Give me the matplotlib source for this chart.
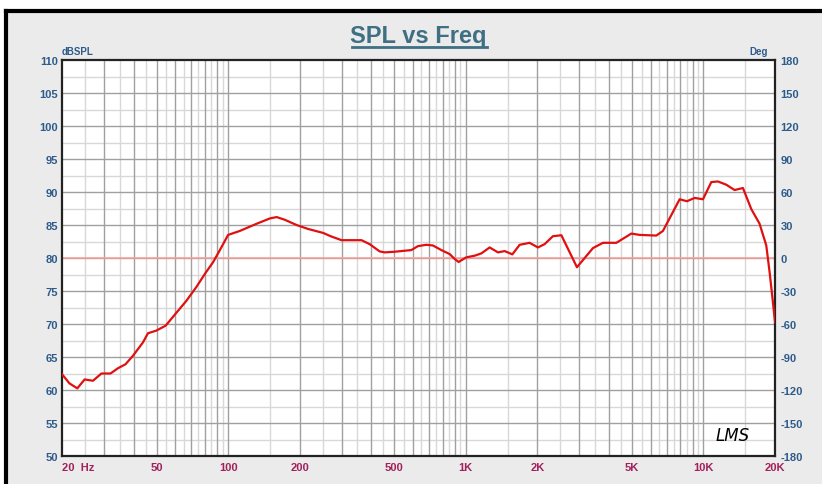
import numpy as np
import matplotlib
matplotlib.use("Agg")
import matplotlib.pyplot as plt
from matplotlib.patches import Rectangle
from matplotlib.lines import Line2D

# --- data ---
freq_hz = [20, 21.5, 23.2, 24.9, 27, 29.3, 32, 34.4, 37, 39.8, 43.8, 46, 49.9, 54.6,
           59.6, 66.7, 73.5, 80.2, 86.4, 92, 100, 112, 131, 150, 160, 173, 194, 217,
           251, 270, 300, 364, 394, 434, 456, 502, 590, 629, 682, 727, 789, 855, 898,
           933, 1005, 1090, 1163, 1260, 1366, 1457, 1570, 1685, 1856, 2012, 2146, 2326,
           2524, 2936, 3428, 3776, 4300, 4972, 5388, 6334, 6754, 7940, 8520, 9180, 9952,
           10790, 11500, 12480, 13520, 14660, 15900, 17220, 18380, 18990, 19600, 20000]
spl_db = [62.4, 61.0, 60.25, 61.6, 61.4, 62.5, 62.5, 63.3, 63.9, 65.2, 67.2, 68.6, 69.0, 69.75,
          71.4, 73.5, 75.6, 77.7, 79.35, 81.1, 83.5, 84.1, 85.15, 86.0, 86.2, 85.8, 85.0, 84.4,
          83.8, 83.3, 82.7, 82.7, 82.1, 81.0, 80.85, 80.95, 81.2, 81.8, 82.0, 81.9, 81.2, 80.6, 79.85,
          79.4, 80.1, 80.35, 80.7, 81.6, 80.85, 81.05, 80.55, 82.0, 82.3, 81.6, 82.1, 83.3,
          83.45, 78.6, 81.5, 82.3, 82.3, 83.7, 83.5, 83.4, 84.1, 88.9, 88.6, 89.1, 88.9,
          91.5, 91.6, 91.1, 90.3, 90.6, 87.4, 85.2, 81.9, 77.8, 73.3, 70.3]

x_ticks = [20, 50, 100, 200, 500, 1000, 2000, 5000, 10000, 20000]
x_labels = ["20  Hz", "50", "100", "200", "500", "1K", "2K", "5K", "10K", "20K"]
db_ticks = list(range(50, 111, 5))
deg_ticks = list(range(-180, 181, 30))

BLUE = "#2d5b8a"
MAROON = "#a3205c"
FONT = ["Liberation Sans Narrow", "Liberation Sans", "DejaVu Sans"]
plt.rcParams["font.family"] = FONT

fig = plt.figure(figsize=(8.22, 4.85), dpi=100)
fig.patch.set_facecolor("white")

# grey panel with black frame (top + left)
W, H = 822.0, 485.0
fig.add_artist(Rectangle((7 / W, 0), 1, 1 - 12 / H, transform=fig.transFigure,
                         facecolor="#ebebeb", edgecolor="none", zorder=0))
fig.add_artist(Line2D([6 / W, 1], [1 - 11.5 / H, 1 - 11.5 / H], transform=fig.transFigure,
                      color="black", lw=3))
fig.add_artist(Line2D([6 / W, 6 / W], [0, 1 - 11.5 / H], transform=fig.transFigure,
                      color="black", lw=3))

ax = fig.add_axes([62 / W, 1 - 457 / H, 713 / W, 396 / H])
ax.set_facecolor("white")
ax.set_xscale("log")
ax.set_xlim(20, 20000)
ax.set_ylim(50, 110)

# grid: dark lines at integer multiples, light ones at the half steps
for dec in [10, 100, 1000, 10000]:
    for m in range(1, 10):
        f = m * dec
        if 20 < f < 20000:
            ax.axvline(f, color="#a0a0a0", lw=1, zorder=1)
        fh = (m + 0.5) * dec
        if 20 < fh < 20000:
            ax.axvline(fh, color="#d8d8d8", lw=1, zorder=0.9)
for y in np.arange(52.5, 110, 2.5):
    if y % 5 == 0:
        ax.axhline(y, color="#a0a0a0", lw=1, zorder=1)
    else:
        ax.axhline(y, color="#d8d8d8", lw=1, zorder=0.9)

ax.axhline(80, color="#ff9a9a", lw=1.1, zorder=2)
ax.plot(freq_hz, spl_db, color="#e01010", lw=1.6, zorder=3)

for s in ax.spines.values():
    s.set_color("#222222")
    s.set_linewidth(1.6)

ax.set_xticks(x_ticks)
ax.set_xticks([], minor=True)
ax.set_xticklabels(x_labels, color=MAROON, fontsize=8, fontweight="bold")
ax.get_xticklabels()[0].set_horizontalalignment("left")
ax.set_yticks(db_ticks)
ax.set_yticklabels([str(v) for v in db_ticks], color=BLUE, fontsize=8, fontweight="bold")
ax.tick_params(axis="both", length=0, pad=3)
ax.tick_params(axis="x", pad=4)

ax2 = ax.twinx()
ax2.set_ylim(-180, 180)
ax2.set_yticks(deg_ticks)
ax2.set_yticklabels([str(v) for v in deg_ticks], color=BLUE, fontsize=8, fontweight="bold")
ax2.tick_params(axis="y", length=0, pad=4)
for s in ax2.spines.values():
    s.set_visible(False)

ax.text(0.0, 1.01, "dBSPL", transform=ax.transAxes, ha="left", va="bottom",
        color=BLUE, fontsize=7, fontweight="bold")
ax.text(0.99, 1.01, "Deg", transform=ax.transAxes, ha="right", va="bottom",
        color=BLUE, fontsize=7, fontweight="bold")

# title with underline
t = fig.text(418 / W, 1 - 37 / H, "SPL vs Freq", ha="center", va="center",
             color="#3e6f82", fontsize=17, fontweight="bold")
fig.add_artist(Line2D([352 / W, 487 / W], [1 - 48 / H, 1 - 48 / H], transform=fig.transFigure,
                      color="#3e6f82", lw=2))

ax.text(0.965, 0.03, "LMS", transform=ax.transAxes, ha="right", va="bottom",
        fontsize=12, fontstyle="italic", color="black", family=["DejaVu Sans"])

fig.savefig("out.png", dpi=100)
